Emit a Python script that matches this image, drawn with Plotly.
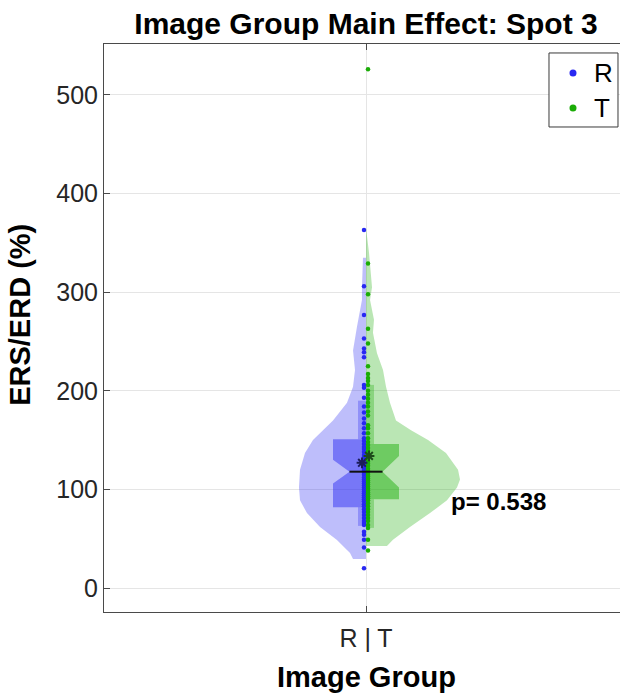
import plotly.graph_objects as go

# ---------------- data ----------------
CATEGORY_LABEL = "R | T"
GROUPS = ["R", "T"]

# ERS/ERD (%) per subject, image group R
r_values = [363, 306, 277, 253, 243, 239, 234, 206, 203, 193, 184, 178, 172, 167,
            162, 157, 152, 149, 146, 143, 141, 138, 135, 133, 131, 128, 126, 124,
            122, 120, 119, 117, 115, 112, 110, 108, 106, 104, 102, 100, 98, 96,
            94, 92, 90, 88, 85, 83, 80, 77, 74, 71, 68, 66, 64, 57, 54, 49, 41, 20]
# ERS/ERD (%) per subject, image group T
t_values = [526, 329, 298, 263, 248, 225, 217, 213, 210, 206, 200, 196, 192, 188,
            184, 179, 175, 165, 162, 157, 152, 148, 145, 142, 139, 136, 134, 131,
            128, 126, 124, 121, 119, 117, 115, 113, 111, 109, 107, 105, 103, 101,
            99, 97, 95, 93, 91, 89, 86, 83, 80, 77, 74, 71, 68, 64, 61, 49, 38]

# kernel density outlines (value, relative density)
r_kde_y = [29.4, 35.5, 48.7, 62, 76, 89, 102, 120, 137, 150, 160, 170, 188, 204,
           221, 241, 265, 292, 305, 335]
r_kde_d = [0.138, 0.17, 0.309, 0.489, 0.628, 0.702, 0.713, 0.702, 0.649, 0.564,
           0.457, 0.351, 0.202, 0.138, 0.117, 0.138, 0.096, 0.043, 0.043, 0.032]
t_kde_y = [42.6, 49, 62, 76, 89, 102, 110, 120, 137, 150, 160, 170, 188, 204,
           221, 238, 259, 272, 292, 305, 340, 365]
t_kde_d = [0.223, 0.287, 0.468, 0.681, 0.862, 0.968, 1.0, 0.979, 0.851, 0.66,
           0.479, 0.319, 0.255, 0.213, 0.181, 0.117, 0.074, 0.085, 0.043, 0.064,
           0.032, 0.0]

# box statistics: [whisker_lo, q1, notch_lo, median, notch_hi, q3, whisker_hi]
r_box = [63, 82, 106, 118, 130, 151, 190]
t_box = [61, 90, 102, 118, 134, 146, 206]
r_mean = 127
t_mean = 134

P_VALUE = 0.538

# ---------------- styling ----------------
PX = 1 / 524.0            # one pixel in x-axis units
CENTER = 1.0
VIOLIN_HW = 94 * PX
BOX_HW = 33 * PX
NOTCH_HW = 16.5 * PX
WHISK_W = 8 * PX

R_RGB = (40, 40, 242)
T_RGB = (26, 172, 6)


def rgba(c, a):
    return f"rgba({c[0]},{c[1]},{c[2]},{a})"


FONT = "Arial, Liberation Sans, Helvetica, sans-serif"
TXT = "#262626"

fig = go.Figure()


def violin_half(ys, ds, side, color):
    xs = [CENTER] + [CENTER + side * d * VIOLIN_HW for d in ds] + [CENTER, CENTER]
    yy = [ys[0]] + list(ys) + [ys[-1], ys[0]]
    fig.add_trace(go.Scatter(x=xs, y=yy, mode="lines", fill="toself",
                             fillcolor=rgba(color, 0.3), line=dict(width=0),
                             hoverinfo="skip", showlegend=False))


def whisker_half(stats, side, color):
    wlo, q1, nlo, med, nhi, q3, whi = stats
    for a, b in [(wlo, q1), (q3, whi)]:
        xs = [CENTER, CENTER + side * WHISK_W, CENTER + side * WHISK_W, CENTER, CENTER]
        yy = [a, a, b, b, a]
        fig.add_trace(go.Scatter(x=xs, y=yy, mode="lines", fill="toself",
                                 fillcolor=rgba(color, 0.3), line=dict(width=0),
                                 hoverinfo="skip", showlegend=False))


def box_half(stats, side, color):
    wlo, q1, nlo, med, nhi, q3, whi = stats
    xo = CENTER + side * BOX_HW
    xn = CENTER + side * NOTCH_HW
    xs = [CENTER, xo, xo, xn, xo, xo, CENTER, CENTER]
    yy = [q3, q3, nhi, med, nlo, q1, q1, q3]
    fig.add_trace(go.Scatter(x=xs, y=yy, mode="lines", fill="toself",
                             fillcolor=rgba(color, 0.47), line=dict(width=0),
                             hoverinfo="skip", showlegend=False))


violin_half(r_kde_y, r_kde_d, -1, R_RGB)
violin_half(t_kde_y, t_kde_d, +1, T_RGB)
whisker_half(r_box, -1, R_RGB)
whisker_half(t_box, +1, T_RGB)
box_half(r_box, -1, R_RGB)
box_half(t_box, +1, T_RGB)

# individual observations
fig.add_trace(go.Scatter(x=[CENTER - 2 * PX] * len(r_values), y=r_values, mode="markers",
                         marker=dict(size=4.5, color=rgba(R_RGB, 1)),
                         showlegend=False, name="R"))
fig.add_trace(go.Scatter(x=[CENTER + 2 * PX] * len(t_values), y=t_values, mode="markers",
                         marker=dict(size=4.5, color=rgba(T_RGB, 1)),
                         showlegend=False, name="T"))

# medians
fig.add_trace(go.Scatter(x=[CENTER - NOTCH_HW, CENTER], y=[r_box[3], r_box[3]], mode="lines",
                         line=dict(color="#111111", width=2), showlegend=False, hoverinfo="skip"))
fig.add_trace(go.Scatter(x=[CENTER, CENTER + NOTCH_HW], y=[t_box[3], t_box[3]], mode="lines",
                         line=dict(color="#111111", width=2), showlegend=False, hoverinfo="skip"))

# means
fig.add_trace(go.Scatter(x=[CENTER - 4 * PX], y=[r_mean], mode="markers",
                         marker=dict(symbol="asterisk-open", size=9, color="#1c1c5a",
                                     line=dict(color="#1c1c5a", width=2)),
                         showlegend=False))
fig.add_trace(go.Scatter(x=[CENTER + 3 * PX], y=[t_mean], mode="markers",
                         marker=dict(symbol="asterisk-open", size=9, color="#1d4a1a",
                                     line=dict(color="#1d4a1a", width=2)),
                         showlegend=False))

fig.add_annotation(x=CENTER + 83 * PX, y=88, xref="x", yref="y",
                   text=f"<b>p= {P_VALUE:.3f}</b>", showarrow=False,
                   xanchor="left", yanchor="middle",
                   font=dict(family=FONT, size=24, color="#000000"))

# legend box (paper coordinates of the plot area)
LEG_X0, LEG_X1, LEG_Y0, LEG_Y1 = 0.8624, 0.9961, 0.8539, 0.9842
LEG_DOT_X, LEG_TXT_X = 0.9089, 0.9450
LEG_ROWS = [0.9490, 0.8873]
fig.add_shape(type="rect", xref="paper", yref="paper",
              x0=LEG_X0, x1=LEG_X1, y0=LEG_Y0, y1=LEG_Y1,
              line=dict(color="#3a3a3a", width=1), fillcolor="white", layer="above")
for g, c, ry in zip(GROUPS, [R_RGB, T_RGB], LEG_ROWS):
    fig.add_shape(type="circle", xref="paper", yref="paper",
                  xsizemode="pixel", ysizemode="pixel",
                  xanchor=LEG_DOT_X, yanchor=ry, x0=-3.5, x1=3.5, y0=-3.5, y1=3.5,
                  line=dict(width=0), fillcolor=rgba(c, 1), layer="above")
    fig.add_annotation(x=LEG_TXT_X, y=ry, xref="paper", yref="paper", text=g,
                       showarrow=False, xanchor="left", yanchor="middle",
                       font=dict(family=FONT, size=26, color="#000000"))

# axis titles
fig.add_annotation(x=-0.163, y=0.523, xref="paper", yref="paper",
                   text="<b>ERS/ERD (%)</b>", textangle=-90, showarrow=False,
                   xanchor="center", yanchor="middle",
                   font=dict(family=FONT, size=29, color="#000000"))
fig.add_annotation(x=0.5078, y=-0.083, xref="paper", yref="paper",
                   text="<b>Image Group</b>", showarrow=False,
                   xanchor="center", yanchor="top",
                   font=dict(family=FONT, size=29, color="#000000"))

fig.update_layout(
    width=620, height=695,
    margin=dict(l=104, r=0, t=44, b=83),
    paper_bgcolor="white", plot_bgcolor="white",
    showlegend=False,
    title=dict(text="<b>Image Group Main Effect: Spot 3</b>",
               x=0.5903, xref="container", xanchor="center",
               y=1 - 23 / 695, yref="container", yanchor="middle",
               font=dict(family=FONT, size=30, color="#000000")),
    font=dict(family=FONT, color=TXT),
)

fig.update_xaxes(range=[0.5, 0.5 + 516 * PX], tickvals=[CENTER], ticktext=[CATEGORY_LABEL],
                 tickfont=dict(size=25, color=TXT, family=FONT),
                 showgrid=True, gridcolor="#e5e5e5", gridwidth=1,
                 showline=True, linecolor="#4a4a4a", linewidth=1, mirror="ticks",
                 ticks="inside", ticklen=6, tickcolor="#4a4a4a", zeroline=False,
                 ticklabelstandoff=4)
fig.update_yaxes(range=[-24.3, 551.7], tickvals=[0, 100, 200, 300, 400, 500],
                 tickfont=dict(size=25, color=TXT, family=FONT),
                 showgrid=True, gridcolor="#e5e5e5", gridwidth=1,
                 showline=True, linecolor="#4a4a4a", linewidth=1,
                 ticks="inside", ticklen=6, tickcolor="#4a4a4a", zeroline=False)

fig.write_html("out.html")
